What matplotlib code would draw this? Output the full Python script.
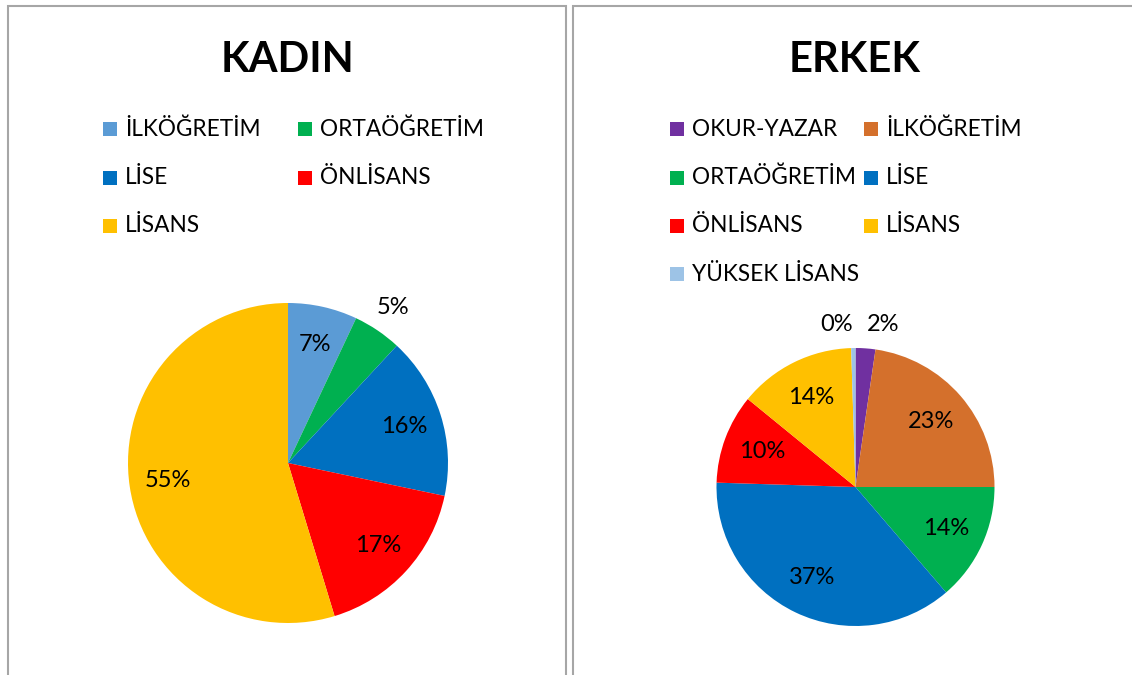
import numpy as np
import matplotlib
matplotlib.use("Agg")
import matplotlib.pyplot as plt
from matplotlib.patches import Rectangle

plt.rcParams['font.family'] = ['Lato', 'DejaVu Sans']

# KADIN (women) - share of each education level, %
kadinLabels = ["İLKÖĞRETİM", "ORTAÖĞRETİM", "LİSE", "ÖNLİSANS", "LİSANS"]
kadinValues = [7.0, 4.9, 16.4, 17.0, 54.7]
kadinColors = ["#5B9BD5", "#00B050", "#0070C0", "#FF0000", "#FFC000"]

# ERKEK (men) - share of each education level, %
erkekLabels = ["OKUR-YAZAR", "İLKÖĞRETİM", "ORTAÖĞRETİM", "LİSE",
               "ÖNLİSANS", "LİSANS", "YÜKSEK LİSANS"]
erkekValues = [2.3, 22.7, 13.7, 36.8, 10.4, 13.6, 0.5]
erkekColors = ["#7030A0", "#D4702C", "#00B050", "#0070C0",
               "#FF0000", "#FFC000", "#9DC3E6"]

W, H = 1132, 675
fig = plt.figure(figsize=(W / 100, H / 100), dpi=100)


def px_axes(cx, cy, r):
    # axes placed from pixel centre / radius (y from top)
    ax = fig.add_axes([(cx - r) / W, (H - cy - r) / H, 2 * r / W, 2 * r / H])
    return ax


def draw_pie(ax, values, colors, inner):
    wedges, _ = ax.pie(values, colors=colors, startangle=90, counterclock=False,
                       radius=1, wedgeprops=dict(linewidth=0))
    # pie() resets the limits to +-1.25, put them back so radius fills the axes
    ax.set_xlim(-1, 1)
    ax.set_ylim(-1, 1)
    ax.set_aspect('equal')
    ax.axis('off')
    total = sum(values)
    for w, v in zip(wedges, values):
        ang = np.deg2rad((w.theta1 + w.theta2) / 2)
        pct = v / total * 100
        if pct < 6:
            d = 1.17
        else:
            d = inner
        x, y = d * np.cos(ang), d * np.sin(ang)
        ha = 'center'
        if pct < 6 and abs(x) < 0.2:
            ha = 'left' if x > 0 else 'right'
        ax.text(x, y, f"{pct:.0f}%", ha=ha, va='center', fontsize=17, clip_on=False)


def draw_legend(labels, colors, x0, colx, y0, dy):
    for i, (lab, col) in enumerate(zip(labels, colors)):
        cx = x0 if i % 2 == 0 else colx
        cy = y0 + (i // 2) * dy
        fig.patches.append(Rectangle(((cx) / W, (H - cy - 7) / H), 14 / W, 14 / H,
                                     transform=fig.transFigure, facecolor=col,
                                     edgecolor='none'))
        fig.text((cx + 22) / W, (H - cy) / H, lab, fontsize=16.3, va='center', ha='left')


# panel frames
for x0, x1 in [(8, 566), (573, 1140)]:
    fig.patches.append(Rectangle((x0 / W, -0.02), (x1 - x0) / W, (H - 6) / H + 0.02,
                                 transform=fig.transFigure, facecolor='none',
                                 edgecolor='#A6A6A6', linewidth=1.5))

fig.text(288 / W, (H - 60) / H, "KADIN", fontsize=30, fontweight='bold', ha='center', va='center')
fig.text(855 / W, (H - 60) / H, "ERKEK", fontsize=30, fontweight='bold', ha='center', va='center')

draw_legend(kadinLabels, kadinColors, 103, 298, 129, 48.5)
draw_legend(erkekLabels, erkekColors, 670, 864, 129, 48.5)

draw_pie(px_axes(288, 463, 160), kadinValues, kadinColors, 0.76)
draw_pie(px_axes(855.5, 487, 139), erkekValues, erkekColors, 0.72)

fig.savefig("out.png", dpi=100)
